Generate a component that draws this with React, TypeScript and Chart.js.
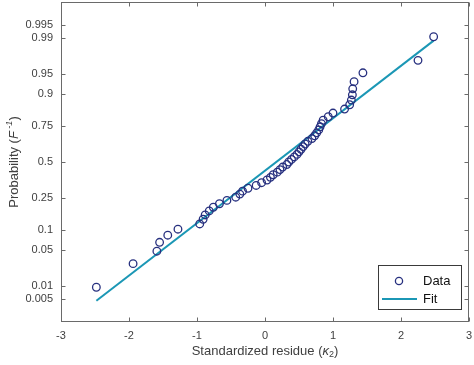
import React, { useEffect, useRef } from 'react';
import { Chart, registerables } from 'chart.js';
Chart.register(...registerables);

// Sorted standardized residues, plotted at normal plotting positions
const residues = [
  -2.48, -1.94, -1.59, -1.55, -1.43, -1.28, -0.96, -0.91, -0.88, -0.82,
  -0.76, -0.67, -0.56, -0.43, -0.37, -0.33, -0.25, -0.13, -0.05, 0.03,
  0.08, 0.12, 0.18, 0.22, 0.26, 0.32, 0.35, 0.39, 0.43, 0.47,
  0.5, 0.53, 0.56, 0.59, 0.63, 0.69, 0.73, 0.76, 0.79, 0.81,
  0.83, 0.855, 0.93, 1.0, 1.17, 1.245, 1.27, 1.285, 1.29, 1.31,
  1.44, 2.25, 2.48,
];
const yTickProbs = [0.005, 0.01, 0.05, 0.1, 0.25, 0.5, 0.75, 0.9, 0.95, 0.99, 0.995];
const yTickLabels = ['0.005', '0.01', '0.05', '0.1', '0.25', '0.5', '0.75', '0.9', '0.95', '0.99', '0.995'];
const xTicks = [-3, -2, -1, 0, 1, 2, 3];
const xTickLabels = ['-3', '-2', '-1', '0', '1', '2', '3'];
const fitMu = 0.165;
const fitSigma = 1.017;
const legendLabels = ['Data', 'Fit'];

const DATA_COLOR = '#27307f';
const FIT_COLOR = '#1b97b5';
const AXIS_COLOR = '#6a6a6a';
const TEXT_COLOR = '#404040';
const FONT = '"Liberation Sans", Arial, Helvetica, sans-serif';

// inverse standard normal CDF (Acklam)
function norminv(p: number): number {
  const a = [-3.969683028665376e1, 2.209460984245205e2, -2.759285104469687e2, 1.38357751867269e2, -3.066479806614716e1, 2.506628277459239];
  const b = [-5.447609879822406e1, 1.615858368580409e2, -1.556989798598866e2, 6.680131188771972e1, -1.328068155288572e1];
  const c = [-7.784894002430293e-3, -3.223964580411365e-1, -2.400758277161838, -2.549732539343734, 4.374664141464968, 2.938163982698783];
  const d = [7.784695709041462e-3, 3.224671290700398e-1, 2.445134137142996, 3.754408661907416];
  const pl = 0.02425;
  let q: number, r: number;
  if (p < pl) {
    q = Math.sqrt(-2 * Math.log(p));
    return (((((c[0] * q + c[1]) * q + c[2]) * q + c[3]) * q + c[4]) * q + c[5]) / ((((d[0] * q + d[1]) * q + d[2]) * q + d[3]) * q + 1);
  } else if (p <= 1 - pl) {
    q = p - 0.5; r = q * q;
    return (((((a[0] * r + a[1]) * r + a[2]) * r + a[3]) * r + a[4]) * r + a[5]) * q / (((((b[0] * r + b[1]) * r + b[2]) * r + b[3]) * r + b[4]) * r + 1);
  }
  q = Math.sqrt(-2 * Math.log(1 - p));
  return -(((((c[0] * q + c[1]) * q + c[2]) * q + c[3]) * q + c[4]) * q + c[5]) / ((((d[0] * q + d[1]) * q + d[2]) * q + d[3]) * q + 1);
}

type Seg = { t: string; font: string; dy?: number };
function drawSegs(ctx: CanvasRenderingContext2D, segs: Seg[], cx: number, cy: number) {
  let total = 0;
  for (const s of segs) { ctx.font = s.font; total += ctx.measureText(s.t).width; }
  let x = cx - total / 2;
  ctx.textAlign = 'left';
  ctx.textBaseline = 'middle';
  for (const s of segs) {
    ctx.font = s.font;
    ctx.fillText(s.t, x, cy + (s.dy || 0));
    x += ctx.measureText(s.t).width;
  }
}

const zeroPad = (s: any) => { s.paddingTop = 0; s.paddingBottom = 0; s.paddingLeft = 0; s.paddingRight = 0; };

const decorPlugin = {
  id: 'decor',
  afterDraw(chart: any) {
    const { ctx, chartArea: ca, scales } = chart;
    const xs = scales.x, ys = scales.y;
    ctx.save();
    // box
    ctx.strokeStyle = AXIS_COLOR;
    ctx.lineWidth = 1;
    const L = Math.round(ca.left) + 0.5, R = Math.round(ca.right) - 0.5, T = Math.round(ca.top) + 0.5, B = Math.round(ca.bottom) - 0.5;
    ctx.strokeRect(L, T, R - L, B - T);
    // inward ticks
    const tl = 4;
    ctx.beginPath();
    for (const v of xTicks) {
      const px = Math.round(xs.getPixelForValue(v)) + 0.5;
      ctx.moveTo(px, B); ctx.lineTo(px, B - tl);
      ctx.moveTo(px, T); ctx.lineTo(px, T + tl);
    }
    for (const p of yTickProbs) {
      const py = Math.round(ys.getPixelForValue(norminv(p))) + 0.5;
      ctx.moveTo(L, py); ctx.lineTo(L + tl, py);
      ctx.moveTo(R, py); ctx.lineTo(R - tl, py);
    }
    ctx.stroke();

    // axis titles
    ctx.fillStyle = TEXT_COLOR;
    const n13 = `13px ${FONT}`, i13 = `italic 13px ${FONT}`, s9 = `9px ${FONT}`, i9 = `italic 9px ${FONT}`;
    drawSegs(ctx, [
      { t: 'Standardized residue (', font: n13 },
      { t: 'κ', font: i13 },
      { t: '2', font: s9, dy: 4 },
      { t: ')', font: n13 },
    ], (ca.left + ca.right) / 2, 351);
    ctx.save();
    ctx.translate(14, (ca.top + ca.bottom) / 2);
    ctx.rotate(-Math.PI / 2);
    drawSegs(ctx, [
      { t: 'Probability (', font: n13 },
      { t: 'F', font: i13 },
      { t: ' -1', font: i9, dy: -5 },
      { t: ')', font: n13 },
    ], 0, 0);
    ctx.restore();

    // legend
    const lx = 378.5, ly = 265.5, lw = 83, lh = 44;
    ctx.fillStyle = '#ffffff';
    ctx.fillRect(lx, ly, lw, lh);
    ctx.strokeStyle = '#3a3a3a';
    ctx.lineWidth = 1;
    ctx.strokeRect(lx, ly, lw, lh);
    ctx.strokeStyle = DATA_COLOR;
    ctx.lineWidth = 1.3;
    ctx.beginPath();
    ctx.arc(399, 281, 3.6, 0, Math.PI * 2);
    ctx.stroke();
    ctx.strokeStyle = FIT_COLOR;
    ctx.lineWidth = 2;
    ctx.beginPath();
    ctx.moveTo(382, 299); ctx.lineTo(417, 299);
    ctx.stroke();
    ctx.fillStyle = '#111111';
    ctx.font = `13px ${FONT}`;
    ctx.textAlign = 'left';
    ctx.textBaseline = 'middle';
    ctx.fillText(legendLabels[0], 423, 281);
    ctx.fillText(legendLabels[1], 423, 299);
    ctx.restore();
  },
};

export default function App() {
  const ref = useRef<HTMLCanvasElement>(null);
  useEffect(() => {
    document.body.style.margin = '0';
    const n = residues.length;
    const points = residues.map((x, i) => ({ x, y: norminv((i + 0.5) / n) }));
    const xmin = residues[0], xmax = residues[n - 1];
    const fit = [
      { x: xmin, y: (xmin - fitMu) / fitSigma },
      { x: xmax, y: (xmax - fitMu) / fitSigma },
    ];
    const chart = new Chart(ref.current!, {
      type: 'scatter',
      data: {
        datasets: [
          {
            label: legendLabels[0],
            data: points,
            showLine: false,
            pointStyle: 'circle',
            pointRadius: 3.8,
            pointBorderWidth: 1.3,
            pointBorderColor: DATA_COLOR,
            pointBackgroundColor: 'rgba(0,0,0,0)',
            borderColor: DATA_COLOR,
          },
          {
            label: legendLabels[1],
            type: 'line',
            data: fit,
            borderColor: FIT_COLOR,
            borderWidth: 2,
            pointRadius: 0,
            fill: false,
          } as any,
        ],
      },
      options: {
        animation: false,
        responsive: false,
        layout: { autoPadding: false, padding: { top: 2, right: 5, left: 0, bottom: 0 } },
        plugins: { legend: { display: false }, tooltip: { enabled: false }, title: { display: false } },
        scales: {
          x: {
            type: 'linear',
            min: -3,
            max: 3,
            afterBuildTicks: (s: any) => { s.ticks = xTicks.map((v) => ({ value: v })); },
            afterFit: (s: any) => { s.height = 43; zeroPad(s); },
            grid: { display: false, drawTicks: false },
            border: { display: false },
            ticks: {
              padding: 7,
              color: TEXT_COLOR,
              font: { size: 11, family: FONT },
              maxRotation: 0,
              autoSkip: false,
              callback: (v: any) => { const i = xTicks.indexOf(Number(v)); return i >= 0 ? xTickLabels[i] : ''; },
            },
          },
          y: {
            type: 'linear',
            min: -3,
            max: 3,
            afterBuildTicks: (s: any) => { s.ticks = yTickProbs.map((p) => ({ value: norminv(p) })); },
            afterFit: (s: any) => { s.width = 61; zeroPad(s); },
            grid: { display: false, drawTicks: false },
            border: { display: false },
            ticks: {
              padding: 8,
              color: TEXT_COLOR,
              font: { size: 11, family: FONT },
              autoSkip: false,
              callback: (_v: any, i: number) => yTickLabels[i],
            },
          },
        },
      },
      plugins: [decorPlugin],
    });
    return () => chart.destroy();
  }, []);
  return (
    <div style={{ position: 'fixed', left: 0, top: 0 }}>
      <canvas ref={ref} width={474} height={365} style={{ display: 'block', width: 474, height: 365 }} />
    </div>
  );
}
